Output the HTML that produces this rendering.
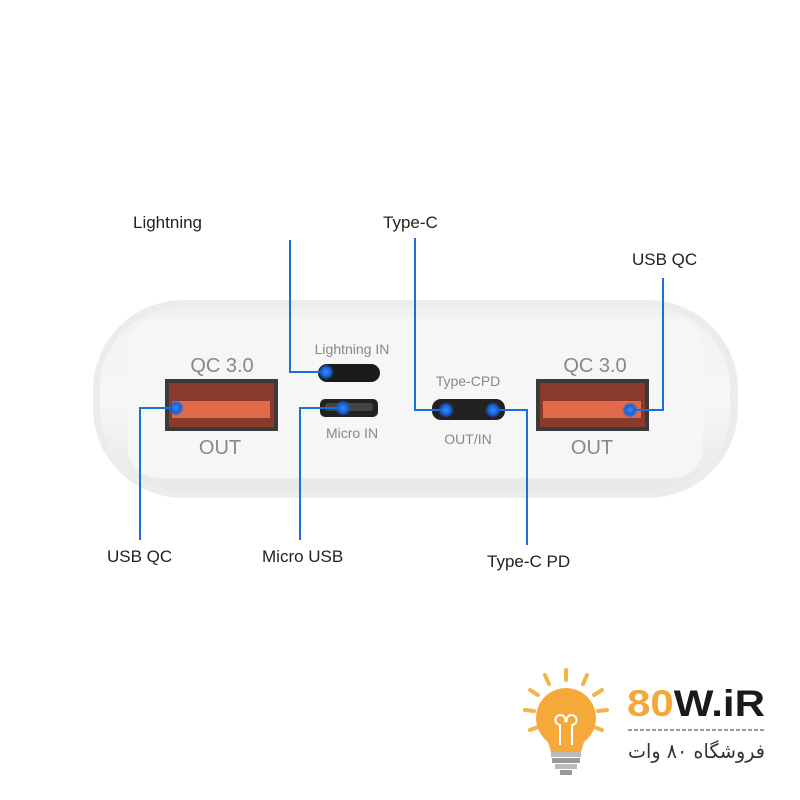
<!DOCTYPE html>
<html><head><meta charset="utf-8"><style>
html,body{margin:0;padding:0;background:#fff;}
svg{display:block;font-family:"Liberation Sans",sans-serif;}
</style></head><body>
<svg width="800" height="800" viewBox="0 0 800 800" xmlns="http://www.w3.org/2000/svg">
<defs>
<linearGradient id="body" x1="0" y1="0" x2="0" y2="1">
<stop offset="0" stop-color="#f1f1f1"/><stop offset="0.5" stop-color="#f7f7f7"/><stop offset="1" stop-color="#e8e8e8"/>
</linearGradient>
<radialGradient id="glow"><stop offset="0" stop-color="#3a8cff"/><stop offset="0.6" stop-color="#1560d8"/><stop offset="1" stop-color="#1560d8" stop-opacity="0"/></radialGradient>
</defs>
<rect width="800" height="800" fill="#fff"/>
<rect x="93" y="300" width="645" height="198" rx="90" fill="#ececec"/>
<rect x="100" y="308" width="630" height="182" rx="80" fill="url(#body)"/>
<rect x="128" y="318" width="575" height="160" rx="30" fill="#f6f6f6"/>
<g fill="#888" text-anchor="middle">
<text x="222" y="372" font-size="20">QC 3.0</text>
<text x="220" y="454" font-size="20">OUT</text>
<text x="595" y="372" font-size="20">QC 3.0</text>
<text x="592" y="454" font-size="20">OUT</text>
<text x="352" y="354" font-size="14">Lightning  IN</text>
<text x="352" y="438" font-size="14">Micro  IN</text>
<text x="468" y="386" font-size="14">Type-CPD</text>
<text x="468" y="444" font-size="14">OUT/IN</text>
</g>
<rect x="165" y="379" width="113" height="52" fill="#3a3a3a"/>
<rect x="169" y="383" width="105" height="44" fill="#8a3a2a"/>
<rect x="172" y="401" width="98" height="17" fill="#e06a4a"/>
<rect x="536" y="379" width="113" height="52" fill="#3a3a3a"/>
<rect x="540" y="383" width="105" height="44" fill="#8a3a2a"/>
<rect x="543" y="401" width="98" height="17" fill="#e06a4a"/>
<rect x="318" y="364" width="62" height="18" rx="9" fill="#1a1a1a"/>
<rect x="320" y="399" width="58" height="18" rx="5" fill="#222"/>
<rect x="325" y="403" width="48" height="8" rx="3" fill="#444"/>
<rect x="432" y="399" width="73" height="21" rx="9" fill="#222"/>
<g stroke="#1a6fd8" stroke-width="2" fill="none">
<polyline points="290,240 290,372 325,372"/>
<polyline points="415,238 415,410 445,410"/>
<polyline points="663,278 663,410 630,410"/>
<polyline points="175,408 140,408 140,540"/>
<polyline points="342,408 300,408 300,540"/>
<polyline points="493,410 527,410 527,545"/>
</g>
<g fill="url(#glow)">
<circle cx="326" cy="372" r="8"/><circle cx="343" cy="408" r="8"/>
<circle cx="446" cy="410" r="8"/><circle cx="493" cy="410" r="8"/>
<circle cx="176" cy="408" r="8"/><circle cx="630" cy="410" r="8"/>
</g>
<g fill="#222" font-size="17">
<text x="133" y="228">Lightning</text>
<text x="383" y="228">Type-C</text>
<text x="632" y="265">USB  QC</text>
<text x="107" y="562">USB  QC</text>
<text x="262" y="562">Micro USB</text>
<text x="487" y="567">Type-C PD</text>
</g>
<g stroke="#f3b44a" stroke-width="4" stroke-linecap="round">
<line x1="566" y1="670" x2="566" y2="680"/>
<line x1="545" y1="675" x2="549" y2="684"/>
<line x1="587" y1="675" x2="583" y2="684"/>
<line x1="530" y1="690" x2="538" y2="695"/>
<line x1="602" y1="690" x2="594" y2="695"/>
<line x1="525" y1="710" x2="534" y2="711"/>
<line x1="607" y1="710" x2="598" y2="711"/>
<line x1="530" y1="730" x2="538" y2="727"/>
<line x1="602" y1="730" x2="594" y2="727"/>
</g>
<path d="M566 688 a30 30 0 0 1 18 54 l-3 10 h-30 l-3 -10 a30 30 0 0 1 18 -54z" fill="#f5a93a"/>
<path d="M560 745 v-20 a5 5 0 1 1 5 -3 M572 745 v-20 a5 5 0 1 0 -5 -3" stroke="#fff" stroke-width="2" fill="none"/>
<rect x="551" y="752" width="30" height="5" fill="#bbb"/>
<rect x="552" y="758" width="28" height="5" fill="#999"/>
<rect x="555" y="764" width="22" height="5" fill="#bbb"/>
<rect x="560" y="770" width="12" height="5" fill="#999"/>
<text x="627" y="716" font-size="37" font-weight="bold" fill="#f3a93a" textLength="138" lengthAdjust="spacingAndGlyphs">80<tspan fill="#1a1a1a">W.iR</tspan></text>
<line x1="628" y1="730" x2="765" y2="730" stroke="#999" stroke-width="2" stroke-dasharray="4,2"/>
<text x="628" y="758" font-size="20" fill="#333" font-family="'DejaVu Sans',sans-serif" textLength="137" lengthAdjust="spacingAndGlyphs">فروشگاه ۸۰ وات</text>
</svg>
</body></html>
